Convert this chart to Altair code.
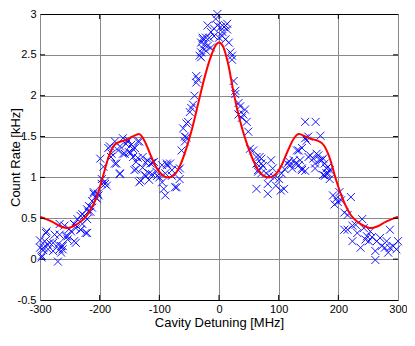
import altair as alt
import pandas as pd

# Measured data (scatter)
pts = [
(-297,0.04),(-300,0.23),(-290,0.32),(-294.5,0.14),(-288,0.18),(-278,0.2),(-270,-0.03),(-264.5,0.16),(-267,0.3),(-262,0.12),
(-253.7,0.28),(-251,0.37),(-240,0.2),(-242.7,0.43),(-231.8,0.36),(-223.6,0.32),(-226,0.53),(-219,0.58),(-212.8,0.63),(-210,0.80),
(-201.8,0.78),(-196.4,0.92),(-191,0.95),(-289,0.34),(-292,0.22),(-286.4,0.12),(-294.5,0.11),(-297.3,0.02),(-300,0.14),(-267,0.12),
(-264.5,0.08),(-278,0.10),(-283.6,0.2),(-275.5,0.3),(-270,0.18),(-261.8,0.16),(-253.7,0.24),(-242.7,0.22),(-267,0.43),(-259,0.41),
(-256.4,0.28),(-248,0.34),(-243,0.43),(-240,0.38),(-237.3,0.49),(-232,0.36),(-229,0.43),(-221,0.32),(-229,0.55),(-232,0.53),
(-221,0.49),(-221,0.61),(-215.5,0.58),(-218,0.65),(-212.8,0.71),(-210,0.82),(-204.6,0.74),(-207,0.76),(-203,0.8),(-196.4,0.98),
(-188,0.9),(-191,0.92),(-166.3,1.04),
(-199,1.23),(-185.4,1.36),(-181,1.25),(-169,1.33),(-161,1.48),(-156,1.41),(-174.5,1.17),(-166,1.05),(-151,1.31),(-144,1.25),
(-166,1.38),(-161,1.29),(-153,1.44),(-144.5,1.35),(-136,1.44),(-139,1.19),(-128,1.25),(-120,1.21),(-114.6,1.17),(-109,1.19),
(-117,1.05),(-125,1.03),(-131,0.96),(-103.6,1.02),(-182.7,1.38),(-174.5,1.44),(-180,1.29),(-172,1.17),(-158,1.29),(-152.7,1.46),
(-147,1.4),(-141.8,1.09),(-193.6,1.13),(-122.8,1.02),(-112,1.04),(-117,0.97),(-133.6,0.94),(-139,1.1),(-136,1.24),(-122.8,1.18),
(-112,1.18),(-133.6,1.44),(-141,1.36),(-148,1.3),(-128,1.12),(-105,1.07),(-100,1.0),
(-95.4,0.94),(-92.7,0.86),(-90,0.78),(-87,1.15),(-82,1.17),(-79,1.02),(-71,0.88),(-68.4,1.09),(-66,0.98),(-95.5,1.15),
(-90,1.05),(-87.5,1.17),(-79,1.09),(-73.6,0.88),(-65.5,1.11),
(-62.7,1.33),(-57.2,1.44),(-54.5,1.49),(-60,1.6),(-54.5,1.66),(-57.3,1.5),(-51.8,1.68),(-49,1.8),(-46.4,1.85),(-43.6,1.89),
(-41,2.0),(-38.2,2.16),(-35.5,2.2),(-38.2,2.24),(-32.6,2.49),(-30,2.53),(-27.2,2.69),(-21.8,2.71),(-19,2.61),(-13.6,2.59),
(-19,2.86),(-13.6,2.78),(-8.2,2.82),(-5.5,2.94),(-2.7,3.0),(-2.7,2.86),(2.7,2.84),(10.9,2.86),(13.6,2.81),(5.5,2.73),
(10.9,2.69),(0,2.71),(-8.2,2.73),(-16.4,2.71),(-27.3,2.71),(-30,2.65),(-24.5,2.63),(-27.3,2.58),(-30,2.47),(-21.8,2.55),
(16.4,2.65),(19.1,2.53),(21.8,2.49),(21.8,2.44),(24.5,2.18),(27.3,2.06),(27.3,2.02),(32.7,1.91),(35.5,1.87),(32.7,1.77),
(40.9,1.77),(43.6,1.83),(38.2,1.73),(46.4,1.68),(49,1.56),(51.8,1.35),(57.3,1.33),(62.7,1.25),(68,1.25),(70.9,1.17),
(65.5,1.09),(70.9,1.05),(8.5,2.84),(13.8,2.88),(5.8,2.78),
(62.8,1.17),(71,1.23),(65.4,1.07),(73.6,1.14),(79,1.05),(84.5,1.02),(87.2,1.21),(81.8,0.92),(90,1.11),(92.7,1.0),
(95.4,0.9),(100.9,0.98),(103.6,0.84),(109,0.86),(62.8,0.86),(81.8,0.8),(105,1.05),(110,1.1),
(114.5,1.17),(117,1.2),(120,1.15),(128,1.17),(133.6,1.33),(139,1.36),(144.5,1.48),(147,1.45),(144.5,1.68),(152.8,1.27),
(139,1.11),(122.7,1.11),(133.6,1.15),(162,1.68),(170,1.51),(149.6,1.5),(130.7,1.33),(125.5,1.21),(136,1.21),(161,1.17),
(166.4,1.27),(171.8,1.21),(177,1.17),(182.7,1.13),(180,1.05),(174.5,1.03),(185.5,1.09),(139,1.09),(150,1.25),(158,1.23),
(163.6,1.29),(169,1.21),(174.5,1.23),(161,1.11),(180,1.11),(177.3,1.02),(185.5,0.98),(182.7,1.05),(144.6,1.08),
(191,0.78),(196.4,0.74),(201.8,0.82),(199,0.70),(193.7,0.67),(204.5,0.72),(221,0.76),(210,0.57),(215.5,0.54),(210,0.36),
(215.5,0.36),(223.6,0.41),(229,0.42),(223.6,0.22),(231.8,0.32),(237.3,0.14),(240,0.49),(242.7,0.38),(248,0.28),(245.4,0.24),
(253.7,0.34),(256.4,0.27),(251,0.22),(262,0.1),(264.5,0.22),(270,0.26),(272.7,0.16),(278,0.14),(281,0.22),(286.4,0.36),
(286.4,0.14),(292,0.16),(297.3,0.12),(300,0.22),(262,-0.01),(283.6,0.08),
]
meas_x = [p[0] for p in pts]
meas_y = [p[1] for p in pts]

# Fitted curve
fit_x = [-300,-290,-280,-265,-255,-240,-220,-205,-195,-185,-175,-165,-155,-145,-134,-125,-115,-105,-95,-85,
         -75,-65,-55,-45,-35,-25,-15,-7,0,7,15,25,35,45,55,65,75,84,95,105,115,125,134,145,155,165,175,185,195,205,
         220,240,255,265,280,290,300]
fit_y = [0.52,0.49,0.46,0.40,0.38,0.42,0.55,0.76,1.0,1.25,1.40,1.44,1.46,1.50,1.53,1.45,1.28,1.12,1.03,1.0,
         1.03,1.15,1.35,1.60,1.90,2.20,2.45,2.60,2.65,2.60,2.40,2.02,1.70,1.45,1.25,1.10,1.02,1.0,1.04,1.15,1.32,1.47,1.53,1.50,1.47,1.45,1.40,1.25,1.0,0.78,
         0.55,0.42,0.38,0.40,0.46,0.49,0.52]

x_ticks = [-300,-200,-100,0,100,200,300]
y_ticks = [-0.5,0,0.5,1,1.5,2,2.5,3]
x_inner = [-200,-100,0,100,200]
y_inner = [0,0.5,1,1.5,2,2.5]

W, H = 358, 286
xs = alt.Scale(domain=[-300,300], nice=False, zero=False)
ys = alt.Scale(domain=[-0.5,3], nice=False, zero=False)

font = "Liberation Sans"
gridc = {"condition": {"test": "datum.value === 3 || datum.value === -0.5", "value": "#000000"}, "value": "#8a8a8a"}

meas = pd.DataFrame({"x": meas_x, "y": meas_y})
fit = pd.DataFrame({"x": fit_x, "y": fit_y})

xaxis = alt.Axis(values=x_ticks, grid=True, gridColor="#8a8a8a", domain=False, ticks=False,
                 labelFlush=False, labelOverlap=False,
                 labelExpr="datum.value + ''", labelFont=font, labelFontSize=11, labelColor="black",
                 labelPadding=3, title="Cavity Detuning [MHz]", titleFont=font, titleFontSize=13,
                 titleFontWeight="normal", titleColor="black", titlePadding=2)
yaxis = alt.Axis(values=y_ticks, grid=True, gridColor=gridc, domain=False, ticks=False,
                 labelFlush=False, labelOverlap=False,
                 labelExpr="datum.value + ''", labelFont=font, labelFontSize=11, labelColor="black",
                 labelPadding=4, title="Count Rate [kHz]", titleFont=font, titleFontSize=13,
                 titleFontWeight="normal", titleColor="black", titleX=-31, titleBaseline="top")

scatter = alt.Chart(meas).mark_point(
    shape="M-1,-1L1,1M1,-1L-1,1", size=64, filled=False, stroke="#0000ff", strokeWidth=1, opacity=0.9
).encode(x=alt.X("x:Q", scale=xs, axis=xaxis), y=alt.Y("y:Q", scale=ys, axis=yaxis))

line = alt.Chart(fit).mark_line(color="#ff0000", strokeWidth=2, interpolate="monotone", clip=True).encode(
    x=alt.X("x:Q", scale=xs), y=alt.Y("y:Q", scale=ys))

xt = pd.DataFrame({"v": x_inner})
yt = pd.DataFrame({"v": y_inner})
top_t = alt.Chart(xt).mark_rule(color="black", strokeWidth=1).encode(
    x=alt.X("v:Q", scale=xs), y=alt.value(0), y2=alt.value(5))
bot_t = alt.Chart(xt).mark_rule(color="black", strokeWidth=1).encode(
    x=alt.X("v:Q", scale=xs), y=alt.value(H - 5), y2=alt.value(H))
left_t = alt.Chart(yt).mark_rule(color="black", strokeWidth=1).encode(
    y=alt.Y("v:Q", scale=ys), x=alt.value(0), x2=alt.value(5))
right_t = alt.Chart(yt).mark_rule(color="black", strokeWidth=1).encode(
    y=alt.Y("v:Q", scale=ys), x=alt.value(W - 5), x2=alt.value(W))

chart = alt.layer(scatter, line, top_t, bot_t, left_t, right_t).properties(
    width=W, height=H, autosize="none", padding={"left": 32, "top": 6, "right": 9, "bottom": 30}
).configure_view(stroke=None).configure(background="white")

chart.save("out.html", embed_options={"renderer": "svg", "actions": False})
